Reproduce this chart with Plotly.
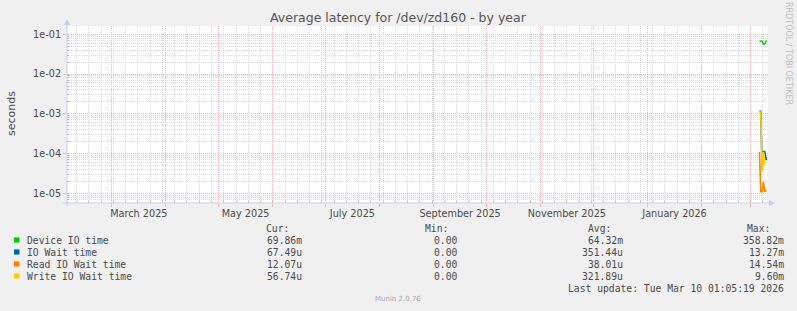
import plotly.graph_objects as go

# ---------------- data ----------------
title_text = "Average latency for /dev/zd160 - by year"
y_title = "seconds"

series_names = ["Device IO time", "IO Wait time", "Read IO Wait time", "Write IO Wait time"]
series_colors = ["#00CC00", "#0066B3", "#FF8000", "#FFCC00"]

times = ["2026-03-06 00:00", "2026-03-06 18:00", "2026-03-07 12:00",
         "2026-03-08 06:00", "2026-03-09 00:00", "2026-03-10 00:00"]
device_io = [0.067, 0.067, 0.067, 0.057, 0.057, 0.0699]
io_wait = [1.15e-3, 1.15e-3, 4.0e-5, 1.12e-4, 1.12e-4, 6.75e-5]
read_wait = [1.1e-4, 1.1e-5, 1.1e-5, 1.9e-5, 1.1e-5, 1.207e-5]
write_wait = [1.1e-3, 1.1e-3, 3.5e-5, 1.1e-4, 5.67e-5, 5.67e-5]

cur_vals = ["69.86m", "67.49u", "12.07u", "56.74u"]
min_vals = ["0.00", "0.00", "0.00", "0.00"]
avg_vals = ["64.32m", "351.44u", "38.01u", "321.89u"]
max_vals = ["358.82m", "13.27m", "14.54m", "9.60m"]
col_headers = ["Cur:", "Min:", "Avg:", "Max:"]
last_update = "Last update: Tue Mar 10 01:05:19 2026"
watermark = "Munin 2.0.76"
side_text = "RRDTOOL / TOBI OETIKER"

x_range = ["2025-02-03 11:00", "2026-03-10 21:00"]
y_range_log = [-5.244, -0.791]
y_tickvals = [1e-1, 1e-2, 1e-3, 1e-4, 1e-5]
y_ticktext = ["1e-01", "1e-02", "1e-03", "1e-04", "1e-05"]
x_label_vals = ["2025-03-16 12:00", "2025-05-16 12:00", "2025-07-16 12:00",
                "2025-09-16 00:00", "2025-11-16 00:00", "2026-01-16 12:00"]
x_label_text = ["March 2025", "May 2025", "July 2025",
                "September 2025", "November 2025", "January 2026"]

# ---------------- layout geometry ----------------
W, H = 797, 311
L, R, T, B = 67, 768, 26, 203
PW, PH = R - L, B - T


def px(x):
    return (x - L) / PW


def py(y):
    return (B - y) / PH


SANS = "DejaVu Sans"
MONO = "DejaVu Sans Mono"
TXT = "#4a4a4a"
MAJOR = "#F0B4B4"
MINOR = "#DADADA"
AXIS = "#C8CCF2"

fig = go.Figure()
for name, color, vals in zip(series_names, series_colors,
                             [device_io, io_wait, read_wait, write_wait]):
    fig.add_trace(go.Scatter(x=times, y=vals, mode="lines", name=name,
                             line=dict(color=color, width=1.6),
                             hoverinfo="skip"))
# dummy trace for the label axis
fig.add_trace(go.Scatter(x=[None], y=[None], xaxis="x2", yaxis="y",
                         showlegend=False, hoverinfo="skip"))

fig.update_layout(
    width=W, height=H, autosize=False,
    margin=dict(l=L, r=W - R, t=T, b=H - B, pad=0),
    paper_bgcolor="#F0F0F0", plot_bgcolor="#FFFFFF",
    showlegend=False,
    xaxis=dict(
        type="date", range=x_range, dtick="M1", tick0="2025-01-01",
        showticklabels=False, showgrid=True, gridcolor=MAJOR, gridwidth=1,
        griddash="1px,1px", ticks="outside", ticklen=3, tickcolor=MAJOR,
        showline=False, zeroline=False,
        minor=dict(dtick=7 * 86400000, tick0="2025-02-02", showgrid=True,
                   gridcolor=MINOR, griddash="1px,1px", ticks="inside",
                   ticklen=2, tickcolor="#BBBBBB"),
    ),
    xaxis2=dict(
        type="date", range=x_range, overlaying="x", anchor="y", side="bottom",
        tickmode="array", tickvals=x_label_vals, ticktext=x_label_text,
        showgrid=False, ticks="", showline=False, zeroline=False,
        tickfont=dict(family=SANS, size=9.7, color=TXT),
        ticklabelstandoff=3,
    ),
    yaxis=dict(
        type="log", range=y_range_log, tickmode="array",
        tickvals=y_tickvals, ticktext=y_ticktext,
        showgrid=True, gridcolor=MAJOR, griddash="1px,1px",
        ticks="outside", ticklen=3, tickcolor=MAJOR,
        showline=False, zeroline=False,
        tickfont=dict(family=SANS, size=9.7, color=TXT),
        minor=dict(dtick="D1", showgrid=True, gridcolor=MINOR,
                   griddash="1px,1px", ticks="inside", ticklen=2,
                   tickcolor="#BBBBBB"),
    ),
)

shapes = []
# axis lines with arrows
shapes.append(dict(type="line", xref="paper", yref="paper",
                   x0=px(L), x1=px(L), y0=py(206), y1=py(24),
                   line=dict(color=AXIS, width=1)))
shapes.append(dict(type="path", xref="paper", yref="paper",
                   path=f"M {px(L-3)},{py(25)} L {px(L+3)},{py(25)} L {px(L)},{py(19)} Z",
                   fillcolor=AXIS, line=dict(width=0)))
shapes.append(dict(type="line", xref="paper", yref="paper",
                   x0=px(63), x1=px(770), y0=py(B), y1=py(B),
                   line=dict(color=AXIS, width=1)))
shapes.append(dict(type="path", xref="paper", yref="paper",
                   path=f"M {px(769)},{py(B-3)} L {px(769)},{py(B+3)} L {px(775)},{py(B)} Z",
                   fillcolor=AXIS, line=dict(width=0)))

row_y = [240, 252, 264, 276]
for cy, color in zip(row_y, series_colors):
    shapes.append(dict(type="rect", xref="paper", yref="paper",
                       x0=px(14), x1=px(19.5), y0=py(cy + 2.6), y1=py(cy - 2.6),
                       fillcolor=color, line=dict(width=0)))
fig.update_layout(shapes=shapes)

ann = []


def add_text(text, x, y, xanchor="left", size=9.7, family=MONO, color=TXT,
             angle=0):
    ann.append(dict(text=text, x=px(x), y=py(y), xref="paper", yref="paper",
                    xanchor=xanchor, yanchor="middle", showarrow=False,
                    textangle=angle, borderpad=0, borderwidth=0,
                    font=dict(family=family, size=size, color=color)))


add_text(title_text, 398.5, 18, xanchor="center", size=12.5, family=SANS,
         color="#555555")
add_text(y_title, 11, 114, xanchor="center", size=11, family=SANS,
         color=TXT, angle=-90)
add_text(side_text, 789, 53, xanchor="center", size=8, family=SANS,
         color="#BDBDBD", angle=90)
add_text(watermark, 398, 299, xanchor="center", size=7, family=SANS,
         color="#AAAAAA")

header_x = [265.5, 425, 588, 746.5]
for hx, htxt in zip(header_x, col_headers):
    add_text(htxt, hx, 228.5)

value_right = [302, 456.5, 623, 783.5]
for i, cy in enumerate(row_y):
    add_text(series_names[i], 26.5, cy)
    for xr, col in zip(value_right, [cur_vals, min_vals, avg_vals, max_vals]):
        add_text(col[i], xr, cy, xanchor="right")
add_text(last_update, 783.5, 288, xanchor="right")

fig.update_layout(annotations=ann)
fig.write_html("out.html")
